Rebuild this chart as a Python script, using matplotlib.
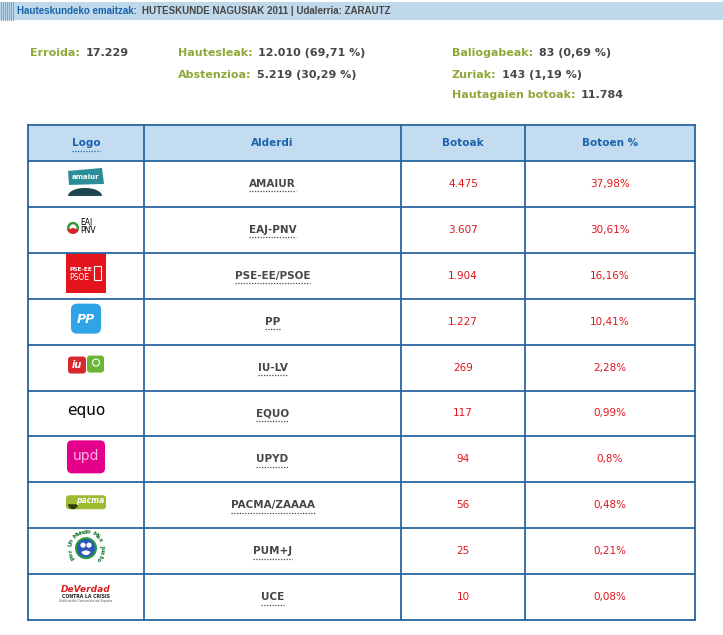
import matplotlib
matplotlib.use("Agg")
import matplotlib.pyplot as plt
from matplotlib.patches import Rectangle, FancyBboxPatch, Circle, Wedge, Polygon
import numpy as np

#### Data ####
parties = ["AMAIUR", "EAJ-PNV", "PSE-EE/PSOE", "PP", "IU-LV", "EQUO",
           "UPYD", "PACMA/ZAAAA", "PUM+J", "UCE"]
votes = [4475, 3607, 1904, 1227, 269, 117, 94, 56, 25, 10]
vote_pct = [37.98, 30.61, 16.16, 10.41, 2.28, 0.99, 0.8, 0.48, 0.21, 0.08]
columns = ["Logo", "Alderdi", "Botoak", "Botoen %"]

title_label = "Hauteskundeko emaitzak:"
title_rest = "HUTESKUNDE NAGUSIAK 2011 | Udalerria: ZARAUTZ"

# summary figures: (label, value text)
stats_col1 = [("Erroida:", "17.229")]
stats_col2 = [("Hautesleak:", "12.010 (69,71 %)"), ("Abstenzioa:", "5.219 (30,29 %)")]
stats_col3 = [("Baliogabeak:", "83 (0,69 %)"), ("Zuriak:", "143 (1,19 %)"),
              ("Hautagaien botoak:", "11.784")]

#### Styles ####
BLUE = "#1a63ad"
BORDER = "#2766a0"
HEAD_BG = "#c4dcef"
BAND_BG = "#bfd8ea"
GREEN = "#8fa83a"
GRAY = "#474747"
RED = "#e0151b"
TITLE_FONT = dict(family=["Liberation Sans", "DejaVu Sans"], fontsize=7.0)

fig = plt.figure(figsize=(7.23, 6.35), dpi=100)
ax = fig.add_axes([0, 0, 1, 1])
ax.set_xlim(0, 723)
ax.set_ylim(635, 0)
ax.axis("off")
renderer = fig.canvas.get_renderer()


def fmt_int(v):
    return f"{v:,}".replace(",", ".")


def fmt_pct(p):
    return str(p).replace(".", ",") + "%"


def text_box(t):
    return t.get_window_extent(renderer).transformed(ax.transData.inverted())


def dotted_underline(t, color, gap=2.5):
    bb = text_box(t)
    y = max(bb.y0, bb.y1) + gap
    ax.plot([bb.x0, bb.x1], [y, y], color=color, lw=0.9, ls=(0, (1, 1.2)))


# --- top band ---
ax.add_patch(Rectangle((0, 2), 723, 18, color=BAND_BG, lw=0))
for sx in np.arange(1, 15, 2):
    ax.plot([sx, sx], [2, 20], color="#7fa9cf", lw=0.8)
t1 = ax.text(17, 11.5, title_label, color=BLUE, fontweight="bold",
             va="center", ha="left", **TITLE_FONT)
ax.annotate(title_rest, xy=(1, 0.5), xycoords=t1, xytext=(3.5, 0),
            textcoords="offset points", color=GRAY, fontweight="bold",
            va="center", ha="left", **TITLE_FONT)

# --- summary block ---
def stat_col(items, x, y0, dy=21):
    for i, (lab, val) in enumerate(items):
        t = ax.text(x, y0 + i * dy, lab, color=GREEN, fontsize=8, fontweight="bold",
                    va="center", ha="left")
        ax.annotate(val, xy=(1, 0.5), xycoords=t, xytext=(4, 0),
                    textcoords="offset points", color=GRAY, fontsize=8,
                    fontweight="bold", va="center", ha="left")

stat_col(stats_col1, 30, 53.5)
stat_col(stats_col2, 178, 53.5)
stat_col(stats_col3, 452, 53.5)

# --- table geometry ---
col_x = [28, 144, 401, 525, 695]
head_top, head_bot = 125, 161
row_h = (620 - head_bot) / len(parties)

ax.add_patch(Rectangle((col_x[0], head_top), col_x[-1] - col_x[0],
                       head_bot - head_top, color=HEAD_BG, lw=0))
for i, c in enumerate(columns):
    cx = (col_x[i] + col_x[i + 1]) / 2
    t = ax.text(cx, (head_top + head_bot) / 2, c, color=BLUE, fontsize=7.5,
                fontweight="bold", ha="center", va="center")
    if c == "Logo":
        dotted_underline(t, BLUE)

# grid lines
ys = [head_top, head_bot] + [head_bot + row_h * (i + 1) for i in range(len(parties))]
for y in ys:
    ax.plot([col_x[0], col_x[-1]], [y, y], color=BORDER, lw=1.3)
for x in col_x:
    ax.plot([x, x], [head_top, ys[-1]], color=BORDER, lw=1.3)


# --- logos (rough drawings) ---
def logo_amaiur(cx, cy):
    ax.add_patch(Polygon([[cx - 18, cy - 10], [cx + 16, cy - 13], [cx + 18, cy + 3],
                          [cx - 17, cy + 4]], color="#2a8d98", lw=0))
    ax.text(cx, cy - 4, "amaiur", color="white", fontsize=5, fontweight="bold",
            ha="center", va="center")
    a = np.linspace(0, np.pi, 30)
    dome = np.column_stack([cx - 1 + 17 * np.cos(a), cy + 15 - 8 * np.sin(a)])
    ax.add_patch(Polygon(dome, color="#1b4650", lw=0))


def logo_eaj(cx, cy):
    ax.add_patch(Circle((cx - 13, cy + 1), 6, color="#2e9a3a", lw=0))
    ax.add_patch(Circle((cx - 13, cy + 1), 3.5, color="white", lw=0))
    ax.add_patch(Wedge((cx - 13, cy + 1), 6, 20, 160, color="#d8232a", lw=0))
    ax.text(cx - 6, cy - 4, "EAJ", color="black", fontsize=5.5, ha="left", va="center")
    ax.text(cx - 6, cy + 4, "PNV", color="black", fontsize=5.5, ha="left", va="center")


def logo_psoe(cx, cy):
    ax.add_patch(Rectangle((cx - 20, cy - 20), 40, 40, color="#e3141b", lw=0))
    ax.text(cx - 17, cy - 3, "PSE-EE", color="white", fontsize=4.2, fontweight="bold",
            ha="left", va="center")
    ax.text(cx - 17, cy + 5, "PSOE", color="white", fontsize=5.5, ha="left", va="center")
    ax.add_patch(Rectangle((cx + 8, cy - 7), 7, 14, fill=False, ec="white", lw=0.8))


def logo_pp(cx, cy):
    ax.add_patch(FancyBboxPatch((cx - 15, cy - 15), 30, 30,
                                boxstyle="round,pad=0,rounding_size=6",
                                color="#2ea3e6", lw=0))
    ax.text(cx, cy + 1, "PP", color="white", fontsize=9, fontweight="bold",
            style="italic", ha="center", va="center")


def logo_iu(cx, cy):
    ax.add_patch(FancyBboxPatch((cx - 18, cy - 8), 18, 17,
                                boxstyle="round,pad=0,rounding_size=3",
                                color="#d8282d", lw=0))
    ax.add_patch(FancyBboxPatch((cx + 1, cy - 9), 17, 17,
                                boxstyle="round,pad=0,rounding_size=3",
                                color="#6cb534", lw=0))
    ax.text(cx - 9, cy, "iu", color="white", fontsize=7, fontweight="bold",
            style="italic", ha="center", va="center")
    ax.add_patch(Circle((cx + 10, cy - 2), 3.5, fill=False, ec="white", lw=0.8))


def logo_equo(cx, cy):
    ax.text(cx, cy, "equo", color="black", fontsize=11, ha="center", va="center")


def logo_upd(cx, cy):
    ax.add_patch(FancyBboxPatch((cx - 19, cy - 16), 38, 33,
                                boxstyle="round,pad=0,rounding_size=5",
                                color="#e5008b", lw=0))
    ax.text(cx, cy, "upd", color="#ffb3df", fontsize=10, ha="center", va="center")


def logo_pacma(cx, cy):
    ax.add_patch(FancyBboxPatch((cx - 20, cy - 7), 40, 14,
                                boxstyle="round,pad=0,rounding_size=3",
                                color="#9dbb2f", lw=0))
    ax.add_patch(Wedge((cx - 13, cy + 2), 5, 0, 180, color="#2f3a10", lw=0))
    ax.text(cx + 4, cy - 2, "pacma", color="white", fontsize=5.5, fontweight="bold",
            style="italic", ha="center", va="center")


def logo_pum(cx, cy):
    ax.add_patch(Circle((cx, cy), 11, color="#2a9a3f", lw=0))
    ax.add_patch(Circle((cx, cy), 9, color="#2a57b8", lw=0))
    ax.add_patch(Circle((cx - 3, cy - 3), 2.6, color="white", lw=0))
    ax.add_patch(Circle((cx + 3, cy - 3), 2.6, color="white", lw=0))
    ax.add_patch(Wedge((cx, cy + 2), 5, 20, 160, color="white", lw=0))
    words = "Por Un Mundo Más Justo"
    angs = np.linspace(215, -40, len(words))
    for ch, a in zip(words, angs):
        r = 16
        px = cx + r * np.cos(np.radians(a))
        py = cy - r * np.sin(np.radians(a))
        ax.text(px, py, ch, color="#1f7a33", fontsize=4.5, fontweight="bold",
                ha="center", va="center", rotation=a - 90)


def logo_uce(cx, cy):
    ax.text(cx, cy - 5, "DeVerdad", color="#d81e1e", fontsize=6.5, fontweight="bold",
            style="italic", ha="center", va="center")
    ax.text(cx, cy + 2, "CONTRA LA CRISIS", color="#222222", fontsize=3.3,
            fontweight="bold", ha="center", va="center")
    ax.text(cx, cy + 7, "Unificación Comunista de España", color="#555555",
            fontsize=2.3, ha="center", va="center")


logos = [logo_amaiur, logo_eaj, logo_psoe, logo_pp, logo_iu, logo_equo,
         logo_upd, logo_pacma, logo_pum, logo_uce]

# --- rows ---
for i, name in enumerate(parties):
    cy = head_bot + row_h * (i + 0.5)
    logos[i]((col_x[0] + col_x[1]) / 2, cy - 3)
    t = ax.text((col_x[1] + col_x[2]) / 2, cy, name, color=GRAY, fontsize=7.5,
                fontweight="bold", ha="center", va="center")
    dotted_underline(t, GRAY)
    ax.text((col_x[2] + col_x[3]) / 2, cy, fmt_int(votes[i]), color=RED,
            fontsize=7.5, ha="center", va="center")
    ax.text((col_x[3] + col_x[4]) / 2, cy, fmt_pct(vote_pct[i]), color=RED,
            fontsize=7.5, ha="center", va="center")

fig.savefig("out.png", dpi=100)
plt.close()
